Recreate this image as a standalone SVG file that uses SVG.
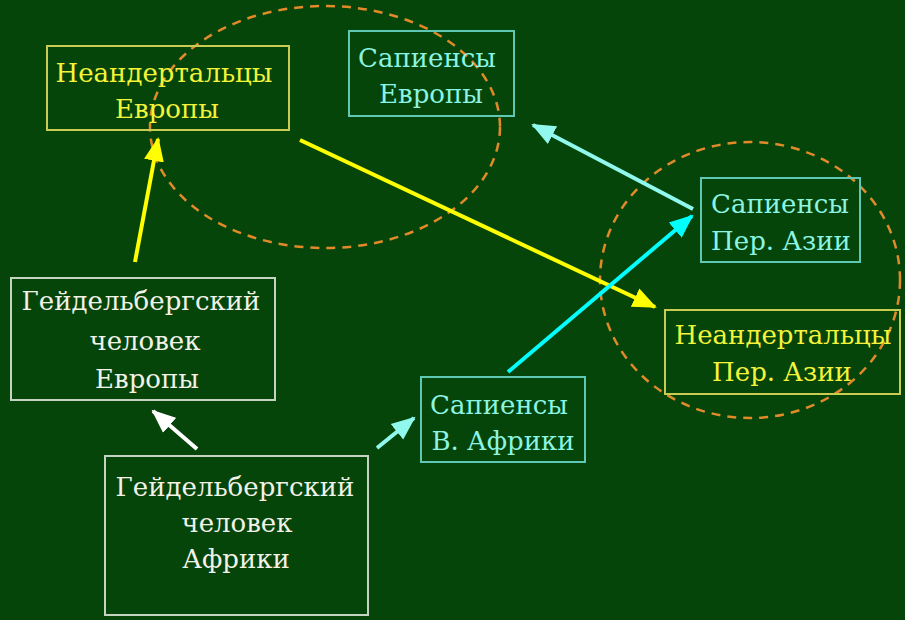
<svg xmlns="http://www.w3.org/2000/svg" width="905" height="620" viewBox="0 0 905 620">
<style>
.t{font-family:"DejaVu Serif","Liberation Serif",serif;font-size:26px;text-anchor:middle}
.y{fill:#f4f43a}.c{fill:#8cf4e2}.w{fill:#f2f2e8}
.by{fill:none;stroke:#c8cc50;stroke-width:2}
.bc{fill:none;stroke:#5ec8b4;stroke-width:2}
.bw{fill:none;stroke:#c4d4c0;stroke-width:2}
.ell{fill:none;stroke:#e08a2a;stroke-width:2.5;stroke-dasharray:9 7}
.a{stroke-width:4;fill:none}
</style>
<defs>
<marker id="my" markerUnits="userSpaceOnUse" markerWidth="26" markerHeight="22" refX="22" refY="11" orient="auto"><path d="M0,1 L24,11 L0,21 Z" fill="#ffff00"/></marker>
<marker id="mc" markerUnits="userSpaceOnUse" markerWidth="26" markerHeight="22" refX="22" refY="11" orient="auto"><path d="M0,1 L24,11 L0,21 Z" fill="#00ffff"/></marker>
<marker id="ml" markerUnits="userSpaceOnUse" markerWidth="26" markerHeight="22" refX="22" refY="11" orient="auto"><path d="M0,1 L24,11 L0,21 Z" fill="#90f8ec"/></marker>
<marker id="mw" markerUnits="userSpaceOnUse" markerWidth="26" markerHeight="22" refX="22" refY="11" orient="auto"><path d="M0,1 L24,11 L0,21 Z" fill="#ffffff"/></marker>
</defs>
<rect width="905" height="620" fill="#054509"/>
<g id="groups">
<ellipse class="ell" cx="325" cy="127" rx="175" ry="121"/>
<ellipse class="ell" cx="750" cy="280" rx="150" ry="138"/>
</g>
<g id="connectors">
<line class="a" x1="135" y1="262" x2="158" y2="139" stroke="#ffff00" marker-end="url(#my)"/>
<line class="a" x1="300" y1="140" x2="655" y2="307" stroke="#ffff00" marker-end="url(#my)"/>
<line class="a" x1="693" y1="209" x2="533" y2="125" stroke="#90f8ec" marker-end="url(#ml)"/>
<line class="a" x1="508" y1="372" x2="692" y2="216" stroke="#00ffff" marker-end="url(#mc)"/>
<line class="a" x1="377" y1="448" x2="414" y2="418" stroke="#90f8ec" marker-end="url(#ml)"/>
<line class="a" x1="197" y1="449" x2="153" y2="411" stroke="#ffffff" marker-end="url(#mw)"/>
</g>
<g id="n-neand-eur">
<rect class="by" x="47" y="46" width="242" height="84"/>
<text class="t y" x="164" y="82">Неандертальцы</text>
<text class="t y" x="167" y="118">Европы</text>
</g>
<g id="n-sap-eur">
<rect class="bc" x="349" y="31" width="165" height="85"/>
<text class="t c" x="427" y="67">Сапиенсы</text>
<text class="t c" x="431" y="103">Европы</text>
</g>
<g id="n-sap-asia">
<rect class="bc" x="701" y="178" width="159" height="84"/>
<text class="t c" x="780" y="213">Сапиенсы</text>
<text class="t c" x="781" y="250">Пер. Азии</text>
</g>
<g id="n-neand-asia">
<rect class="by" x="665" y="310" width="235" height="84"/>
<text class="t y" x="783" y="344">Неандертальцы</text>
<text class="t y" x="782" y="381">Пер. Азии</text>
</g>
<g id="n-heid-eur">
<rect class="bw" x="11" y="278" width="264" height="122"/>
<text class="t w" x="141" y="310">Гейдельбергский</text>
<text class="t w" x="145" y="350">человек</text>
<text class="t w" x="147" y="388">Европы</text>
</g>
<g id="n-heid-afr">
<rect class="bw" x="105" y="456" width="263" height="159"/>
<text class="t w" x="235" y="496">Гейдельбергский</text>
<text class="t w" x="237" y="532">человек</text>
<text class="t w" x="236" y="568">Африки</text>
</g>
<g id="n-sap-afr">
<rect class="bc" x="421" y="377" width="164" height="85"/>
<text class="t c" x="499" y="414">Сапиенсы</text>
<text class="t c" x="503" y="450">В. Африки</text>
</g>
</svg>
